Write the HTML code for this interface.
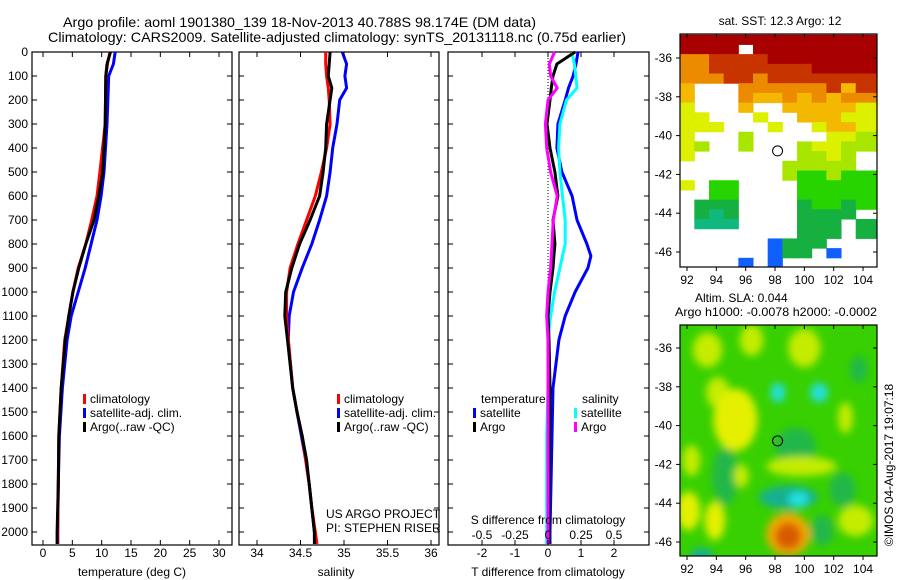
<!DOCTYPE html>
<html><head><meta charset="utf-8"><style>
body{margin:0;background:#fff;}
svg{display:block;font-family:"Liberation Sans",sans-serif;}
</style></head><body>
<svg id="chart" width="900" height="580" viewBox="0 0 900 580">
<text x="63" y="27" font-size="14" textLength="473" lengthAdjust="spacingAndGlyphs">Argo profile: aoml 1901380_139 18-Nov-2013 40.788S 98.174E (DM data)</text>
<text x="48" y="42" font-size="14" textLength="578" lengthAdjust="spacingAndGlyphs">Climatology: CARS2009. Satellite-adjusted climatology: synTS_20131118.nc (0.75d earlier)</text>
<g id="plots"></g>
</svg>
<script>
// ---------- data ----------
const depthTicks=[0,100,200,300,400,500,600,700,800,900,1000,1100,1200,1300,1400,1500,1600,1700,1800,1900,2000];
const tTicks=[0,5,10,15,20,25,30];
const sTicks=[34,34.5,35,35.5,36];
const tdTicks=[-2,-1,0,1,2];
const sdTicks=[-0.5,-0.25,0,0.25,0.5];
const tClimDepth=[0,50,100,300,500,600,700,800,900,1000,1100,1200,1400,1600,1800,2000,2050];
const tClimVal=[11.4,11.0,10.7,10.6,9.7,9.2,8.3,7.3,6.0,5.1,4.4,3.7,3.1,2.7,2.6,2.5,2.5];
const tSatVal=[12.3,12.0,11.2,10.9,10.4,9.9,9.2,8.2,7.2,6.0,4.8,4.1,3.3,2.8,2.6,2.5,2.5];
const tArgoVal=[11.5,10.9,10.7,10.6,10.2,9.5,8.7,7.3,6.1,5.1,4.4,3.8,3.1,2.7,2.6,2.4,2.4];
const sDepth=[0,50,100,150,200,300,400,500,600,700,800,900,1000,1100,1200,1400,1500,1600,1700,1800,1900,2000,2050];
const sClimVal=[34.79,34.79,34.80,34.82,34.83,34.84,34.80,34.74,34.67,34.57,34.47,34.38,34.34,34.34,34.36,34.41,34.46,34.52,34.56,34.60,34.63,34.67,34.69];
const sSatVal=[34.98,35.03,35.01,35.03,34.95,34.92,34.87,34.84,34.80,34.72,34.63,34.52,34.42,34.37,34.36,34.41,34.46,34.51,34.56,34.60,34.63,34.66,34.67];
const sArgoVal=[34.84,34.83,34.82,34.86,34.84,34.80,34.79,34.76,34.72,34.61,34.49,34.40,34.33,34.32,34.35,34.41,34.46,34.52,34.57,34.60,34.63,34.66,34.66];
const dDepth=[0,50,100,150,200,300,400,500,600,700,800,850,900,1000,1100,1200,1400,1600,2000,2050];
const tdSatVal=[0.91,0.85,0.76,0.62,0.52,0.30,0.27,0.42,0.73,0.88,1.18,1.30,1.21,0.82,0.52,0.33,0.15,0.12,0.06,0.06];
const tdArgoVal=[0.82,0.27,0.15,0.10,0.06,-0.03,0.06,0.21,0.30,0.15,0.21,0.18,0.15,0.06,0.0,0.03,0.06,0.05,0.03,0.03];
const sdSatVal=[0.18,0.20,0.21,0.22,0.14,0.09,0.08,0.09,0.11,0.13,0.13,0.11,0.09,0.05,0.02,0.0,0.0,-0.01,-0.01,-0.01];
const sdArgoVal=[0.05,0.01,0.02,0.07,0.0,-0.02,-0.01,0.02,0.07,0.04,0.03,0.025,0.02,0.0,-0.01,0.0,0.0,0.0,0.0,0.0];
const lonTicks=[92,94,96,98,100,102,104];
const latTicks=[-36,-38,-40,-42,-44,-46];
const sstRows=[
"RRRRRRRRRRRRR","RRRRwRRRRRRRR","oorrrrRRRRRRR","oorrrrrrrRRRR","ooorrorrrrrrr",
"OwwwoooooorOr","OwwwoOOoOoOoo","ywwwOwwOOOOOy","yywwwywwOOOyy","yyywwwywwyOOy",
"ywwwlwwwwwyyl","ylwwlwwwlyyll","ywwwwwwwllylw","wwwwwwwlllllw","wwwwwwwlgglgg",
"ywggwwwwggggg","wwggwwwwggggg","wGGGwwwwGggGg","wGtGwwwwGGGGw","wtttwwwwGGGwG",
"wwwwwwwwGGGwG","wwwwwwbGGGwww","wwwwwwbGGwbww","wwwwbwbwwwwww"];
const slaLon=[93.4,96.4,100.0,95.3,94.1,92.3,99.8,92.1,93.9,103.5,95.7,102.8,94.6,99.4,98.9,102.6,103.7,101.2,93.0,98.2,101.0,99.6,98.9,98.9];
const slaLat=[-36.1,-35.6,-36.0,-39.7,-38.3,-41.8,-42.1,-44.4,-44.9,-44.9,-42.6,-39.6,-42.6,-41.1,-43.7,-43.3,-37.1,-45.4,-46.7,-38.3,-38.3,-43.8,-45.6,-45.7];
const slaVal=[0.05,0.045,0.05,0.065,0.04,0.05,0.045,0.07,0.08,0.05,0.04,0.035,-0.03,-0.03,-0.05,-0.04,-0.04,-0.035,-0.05,-0.08,-0.08,-0.08,0.09,0.13];
const slaExtLon=[1.0,0.8,1.1,1.5,0.8,0.6,2.4,0.8,0.7,1.2,0.5,0.5,0.9,1.4,2.0,0.9,0.6,0.8,0.8,0.5,0.6,0.7,1.5,0.9];
const slaExtLat=[0.9,0.8,1.0,1.6,0.8,0.8,0.5,1.0,1.0,0.8,0.6,0.8,1.5,1.0,0.6,0.9,0.7,0.8,0.4,0.5,0.5,0.4,1.1,0.7];

// ---------- helpers ----------
const NS="http://www.w3.org/2000/svg";
const root=document.getElementById('plots');
function el(tag,attrs,parent,txt){const e=document.createElementNS(NS,tag);for(const k in attrs)e.setAttribute(k,attrs[k]);if(txt!==undefined)e.textContent=txt;(parent||root).appendChild(e);return e;}
const Y0=52,Y1=545;
const yD=d=>Y0+d*0.24;
function panel(x0,x1,name){
  const g=el('g',{});
  
  
  const r=el('rect',{x:x0,y:Y0,width:x1-x0,height:Y1-Y0,fill:'#fff',stroke:'#000','stroke-width':1.2},g);
  
  
  depthTicks.forEach(d=>{
    el('line',{x1:x0,x2:x0+5,y1:yD(d),y2:yD(d),stroke:'#000'},g);
    el('line',{x1:x1,x2:x1-5,y1:yD(d),y2:yD(d),stroke:'#000'},g);
  });
  return g;
}
function profLine(g,xs,ds,xf,color,name,w){
  const pts=ds.map((d,i)=>xf(xs[i]).toFixed(1)+','+yD(d).toFixed(1));
  const p=el('polyline',{points:pts.join(' '),fill:'none',stroke:color,'stroke-width':w||3,'stroke-linejoin':'round'},g);
  
  
}
function xAxis(g,ticks,xf,y,name){
  ticks.forEach(t=>{
    el('line',{x1:xf(t),x2:xf(t),y1:Y1,y2:Y1-5,stroke:'#000'},g);
    el('line',{x1:xf(t),x2:xf(t),y1:Y0,y2:Y0+5,stroke:'#000'},g);
    const tx=el('text',{x:xf(t),y:y,'font-size':12,'text-anchor':'middle'},g,String(t));
    
    
  });
}
function legend(g,x,y,color,label,name){
  el('rect',{x:x,y:y-9,width:3,height:10,fill:color},g);
  const t=el('text',{x:x+7,y:y,'font-size':12},g,label);
  
  
}
const dl=el('g',{});


depthTicks.forEach(d=>{const t=el('text',{x:28,y:yD(d)+4,'font-size':12,'text-anchor':'end'},dl,String(d));
  
  });

// panel 1 temperature
const xT=v=>43+v*5.867;
const g1=panel(32,232,'temperature-panel');
profLine(g1,tSatVal,tClimDepth,xT,'#0000ff','temp-satellite-line');
profLine(g1,tClimVal,tClimDepth,xT,'#ff0000','temp-climatology-line');
profLine(g1,tArgoVal,tClimDepth,xT,'#000','temp-argo-line');
xAxis(g1,tTicks,xT,557,'temperature-axis');
el('text',{x:132,y:576,'font-size':12,'text-anchor':'middle'},g1,'temperature (deg C)');
legend(g1,83,403,'#ff0000','climatology','legend-climatology');
legend(g1,83,417,'#0000ff','satellite-adj. clim.','legend-satellite');
legend(g1,83,431,'#000','Argo(..raw -QC)','legend-argo');

// panel 2 salinity
const xS=v=>257+(v-34)*87;
const g2=panel(239,439,'salinity-panel');
profLine(g2,sSatVal,sDepth,xS,'#0000ff','sal-satellite-line');
profLine(g2,sClimVal,sDepth,xS,'#ff0000','sal-climatology-line');
profLine(g2,sArgoVal,sDepth,xS,'#000','sal-argo-line');
xAxis(g2,sTicks,xS,557,'salinity-axis');
el('text',{x:336,y:576,'font-size':12,'text-anchor':'middle'},g2,'salinity');
legend(g2,337,403,'#ff0000','climatology','legend-climatology-2');
legend(g2,337,417,'#0000ff','satellite-adj. clim.','legend-satellite-2');
legend(g2,337,431,'#000','Argo(..raw -QC)','legend-argo-2');
el('text',{x:326,y:518,'font-size':12},g2,'US ARGO PROJECT');
el('text',{x:326,y:532,'font-size':12},g2,'PI: STEPHEN RISER');

// panel 3 differences
const xTd=v=>548+v*33;
const xSd=v=>548+v*132;
const g3=panel(448,649,'difference-panel');
el('line',{x1:548,x2:548,y1:Y0,y2:Y1,stroke:'#000','stroke-dasharray':'1,2'},g3);
profLine(g3,tdSatVal,dDepth,xTd,'#0000ff','tdiff-satellite-line');
profLine(g3,sdSatVal,dDepth,xSd,'#00ffff','sdiff-satellite-line');
profLine(g3,tdArgoVal,dDepth,xTd,'#000','tdiff-argo-line');
profLine(g3,sdArgoVal,dDepth,xSd,'#ff00ff','sdiff-argo-line');
xAxis(g3,tdTicks,xTd,557,'tdiff-axis');
sdTicks.forEach(t=>{const tx=el('text',{x:xSd(t),y:539,'font-size':12,'text-anchor':'middle'},g3,String(t));
  
  });
el('text',{x:548,y:524,'font-size':12,'text-anchor':'middle'},g3,'S difference from climatology');
el('text',{x:548,y:576,'font-size':12,'text-anchor':'middle'},g3,'T difference from climatology');
el('text',{x:481,y:403,'font-size':12},g3,'temperature');
el('text',{x:582,y:403,'font-size':12},g3,'salinity');
legend(g3,473,417,'#0000ff','satellite','legend-t-satellite');
legend(g3,473,431,'#000','Argo','legend-t-argo');
legend(g3,574,417,'#00ffff','satellite','legend-s-satellite');
legend(g3,574,431,'#ff00ff','Argo','legend-s-argo');

// maps
const MX0=680,MX1=877;
const xL=v=>687+(v-92)*14.67;
function mapFrame(yTop,yBot,lat0y,name){
  const yL=v=>lat0y+(-36-v)*19.4;
  const g=el('g',{});
  
  
  return {g,yL,yTop,yBot};
}
function mapAxes(m){
  const g=m.g;
  el('rect',{x:MX0,y:m.yTop,width:MX1-MX0,height:m.yBot-m.yTop,fill:'none',stroke:'#000','stroke-width':1.2},g);
  latTicks.forEach(v=>{el('line',{x1:MX0,x2:MX0-4,y1:m.yL(v),y2:m.yL(v),stroke:'#000'},g);
    el('line',{x1:MX1,x2:MX1-4,y1:m.yL(v),y2:m.yL(v),stroke:'#000'},g);
    const t=el('text',{x:672,y:m.yL(v)+4,'font-size':12,'text-anchor':'end'},g,String(v));
    
    });
  lonTicks.forEach(v=>{el('line',{x1:xL(v),x2:xL(v),y1:m.yBot,y2:m.yBot+4,stroke:'#000'},g);
    el('line',{x1:xL(v),x2:xL(v),y1:m.yTop,y2:m.yTop+4,stroke:'#000'},g);
    const t=el('text',{x:xL(v),y:m.yBot+17,'font-size':12,'text-anchor':'middle'},g,String(v));
    
    });
  const c=el('circle',{cx:xL(98.174),cy:m.yL(-40.788),r:5,fill:'none',stroke:'#000'},g);
  
  
}
const defs=el('defs',{});
el('clipPath',{id:'c1'},defs);
el('rect',{x:MX0,y:34,width:MX1-MX0,height:233},document.getElementById('c1'));
el('clipPath',{id:'c2'},defs);
el('rect',{x:MX0,y:325,width:MX1-MX0,height:231},document.getElementById('c2'));
const f=el('filter',{id:'bl',x:'-50%',y:'-50%',width:'200%',height:'200%'},defs);
el('feGaussianBlur',{stdDeviation:4},f);

const colors={R:'#a80000',r:'#c83400',o:'#ec8a00',O:'#f4b800',y:'#dcf000',l:'#a8e600',g:'#28d400',G:'#16b040',t:'#10b880',b:'#1060ff',w:'#ffffff'};
const m1=mapFrame(34,267,58,'sst-map');
const c1=el('g',{'clip-path':'url(#c1)'},m1.g);
el('rect',{x:MX0,y:34,width:MX1-MX0,height:233,fill:'#fff'},c1);
sstRows.forEach((row,ri)=>{
  const latTop=-34.8-ri*0.5;
  [...row].forEach((ch,ci)=>{
    if(ch==='w')return;
    const lon=91.5+ci;
    const w=(ci===row.length-1)?1.5:1;
    const r=el('rect',{x:xL(lon),y:m1.yL(latTop),width:w*14.67+0.5,height:0.5*19.4+0.5,fill:colors[ch]},c1);
    
    
  });
});
mapAxes(m1);
el('text',{x:780,y:25,'font-size':12,'text-anchor':'middle'},m1.g,'sat. SST: 12.3 Argo: 12');

const m2=mapFrame(325,556,348,'sla-map');
const c2=el('g',{'clip-path':'url(#c2)'},m2.g);
el('rect',{x:MX0,y:325,width:MX1-MX0,height:231,fill:'#38d000'},c2);
const bg=el('g',{filter:'url(#bl)'},c2);
function slaColor(v){if(v>=0.12)return '#d85a00';if(v>=0.085)return '#f4a800';if(v>=0.06)return '#e4f000';if(v>=0.03)return '#c4ec00';if(v<=-0.07)return '#20e0e0';if(v<=-0.045)return '#18b090';if(v<=-0.02)return '#20b848';return '#38d000';}
const order=slaVal.map((v,i)=>i).sort((a,b)=>Math.abs(slaVal[a])-Math.abs(slaVal[b]));
order.forEach(i=>{const e=el('ellipse',{cx:xL(slaLon[i]),cy:m2.yL(slaLat[i]),rx:slaExtLon[i]*14.67,ry:slaExtLat[i]*19.4,fill:slaColor(slaVal[i])},bg);
  
  });
mapAxes(m2);
el('text',{x:695,y:302,'font-size':12},m2.g,'Altim. SLA: 0.044');
el('text',{x:675,y:316,'font-size':12,textLength:202,lengthAdjust:'spacingAndGlyphs'},m2.g,'Argo h1000: -0.0078 h2000: -0.0002');
el('text',{x:893,y:465,'font-size':12,'text-anchor':'middle',transform:'rotate(-90 893 465)'},m2.g,'©IMOS 04-Aug-2017 19:07:18');
</script>
</body></html>
